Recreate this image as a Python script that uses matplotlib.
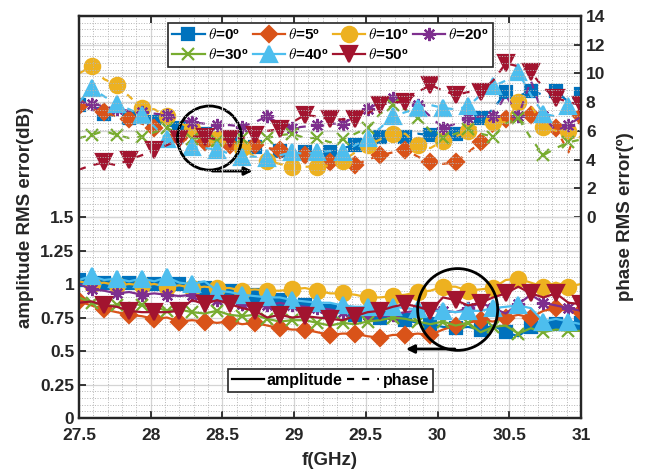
import numpy as np
import matplotlib.pyplot as plt
from matplotlib.lines import Line2D
from matplotlib.patches import Ellipse
from matplotlib.ticker import MultipleLocator, FixedLocator, FormatStrFormatter

plt.rcParams['font.family'] = ['Liberation Sans', 'DejaVu Sans']
plt.rcParams['font.weight'] = 'bold'
plt.rcParams['mathtext.fontset'] = 'cm'

freq = np.linspace(27.5, 31.0, 41)
angles = [0, 5, 10, 20, 30, 40, 50]

# amplitude RMS error (dB)
amp_0 = [1.03, 1.02, 1.01, 1.00, 1.01, 1.00, 1.00, 0.99, 1.00, 0.98, 0.97, 0.97, 0.95, 0.94, 0.92, 0.90,
         0.88, 0.86, 0.84, 0.82, 0.80, 0.79, 0.77, 0.76, 0.75, 0.74, 0.73, 0.71, 0.70, 0.68, 0.67, 0.68,
         0.66, 0.69, 0.64, 0.61, 0.68, 0.72, 0.70, 0.72, 0.71]
amp_5 = [0.87, 0.84, 0.81, 0.79, 0.77, 0.76, 0.74, 0.75, 0.72, 0.73, 0.72, 0.71, 0.72, 0.70, 0.71, 0.69,
         0.67, 0.66, 0.66, 0.64, 0.62, 0.63, 0.63, 0.61, 0.60, 0.62, 0.62, 0.63, 0.62, 0.66, 0.69, 0.71,
         0.73, 0.72, 0.75, 0.77, 0.75, 0.80, 0.82, 0.80, 0.79]
amp_10 = [1.02, 1.00, 1.01, 0.99, 1.00, 0.99, 1.00, 0.98, 0.99, 0.97, 0.98, 0.97, 0.97, 0.95, 0.96, 0.95,
          0.95, 0.96, 0.97, 0.95, 0.93, 0.93, 0.92, 0.90, 0.90, 0.91, 0.92, 0.94, 0.95, 0.98, 0.98, 0.95,
          0.96, 0.97, 1.03, 1.04, 1.01, 0.98, 1.01, 0.98, 1.00]
amp_20 = [1.00, 0.96, 0.95, 0.93, 0.94, 0.92, 0.93, 0.92, 0.91, 0.92, 0.90, 0.88, 0.87, 0.85, 0.82, 0.84,
          0.86, 0.84, 0.83, 0.82, 0.81, 0.79, 0.78, 0.77, 0.76, 0.77, 0.79, 0.80, 0.82, 0.80, 0.79, 0.82,
          0.86, 0.82, 0.78, 0.85, 0.92, 0.86, 0.84, 0.82, 0.80]
amp_30 = [0.90, 0.86, 0.84, 0.84, 0.86, 0.84, 0.83, 0.80, 0.81, 0.79, 0.78, 0.80, 0.77, 0.76, 0.77, 0.74,
          0.72, 0.73, 0.73, 0.71, 0.69, 0.71, 0.70, 0.72, 0.73, 0.75, 0.74, 0.72, 0.70, 0.72, 0.69, 0.71,
          0.64, 0.68, 0.69, 0.63, 0.67, 0.64, 0.66, 0.65, 0.65]
amp_40 = [1.03, 1.06, 1.03, 1.04, 1.02, 1.04, 1.02, 1.05, 1.01, 1.00, 1.02, 0.95, 0.94, 0.92, 0.91, 0.90,
          0.90, 0.88, 0.87, 0.86, 0.86, 0.84, 0.83, 0.83, 0.82, 0.83, 0.82, 0.81, 0.80, 0.80, 0.79, 0.80,
          0.80, 0.82, 0.83, 0.84, 0.82, 0.72, 0.74, 0.72, 0.70]
amp_50 = [0.86, 0.87, 0.84, 0.83, 0.80, 0.79, 0.79, 0.79, 0.80, 0.88, 0.85, 0.88, 0.85, 0.82, 0.80, 0.75,
          0.77, 0.75, 0.76, 0.75, 0.74, 0.73, 0.76, 0.79, 0.80, 0.83, 0.85, 0.83, 0.80, 0.90, 0.88, 0.84,
          0.86, 0.90, 0.93, 0.98, 0.93, 0.90, 0.93, 0.86, 0.85]

# phase RMS error (deg)
phase_0 = [7.8, 7.6, 7.2, 7.0, 6.9, 6.7, 6.6, 6.4, 6.2, 6.0, 5.8, 5.6, 5.3, 5.0, 4.9, 4.8,
           4.6, 4.5, 4.5, 4.6, 4.5, 4.8, 5.0, 5.3, 5.6, 5.5, 5.6, 5.8, 5.7, 5.8, 5.8, 6.0,
           6.9, 7.5, 8.7, 8.4, 8.8, 8.5, 8.8, 8.0, 8.6]
phase_5 = [7.7, 7.5, 7.3, 7.0, 6.8, 6.5, 6.2, 5.8, 5.5, 5.3, 5.2, 5.1, 5.0, 5.2, 5.0, 4.8,
           4.7, 4.5, 4.3, 4.0, 3.8, 3.6, 3.6, 4.0, 4.3, 4.5, 4.7, 4.2, 3.8, 3.7, 3.8, 4.5,
           5.2, 6.0, 6.8, 7.2, 7.1, 6.0, 6.2, 4.5, 7.0]
phase_10 = [10.0, 10.5, 9.6, 9.2, 8.4, 7.6, 7.5, 7.0, 6.6, 6.1, 5.8, 5.4, 5.2, 4.8, 4.2, 3.9,
            3.7, 3.5, 3.5, 3.5, 3.6, 3.9, 4.5, 5.0, 5.4, 5.8, 5.8, 5.0, 4.8, 5.3, 5.6, 6.0,
            6.4, 6.6, 6.6, 8.0, 7.8, 6.3, 6.0, 6.0, 5.5]
phase_20 = [8.0, 7.9, 7.7, 7.5, 7.4, 7.3, 7.2, 7.1, 6.8, 6.6, 6.5, 6.4, 6.4, 6.3, 6.6, 7.0,
            6.5, 6.2, 6.3, 6.4, 6.5, 6.5, 7.0, 7.5, 8.0, 8.3, 8.0, 7.8, 7.0, 6.2, 6.5, 6.9,
            7.0, 7.0, 8.5, 7.0, 9.5, 7.0, 6.0, 6.4, 7.0]
phase_30 = [5.5, 5.7, 6.0, 5.7, 5.5, 5.6, 5.9, 6.2, 5.8, 5.4, 5.6, 5.3, 5.6, 5.5, 5.8, 5.5,
            5.7, 5.8, 5.5, 5.5, 5.2, 5.4, 5.8, 6.2, 7.2, 7.8, 7.5, 6.9, 6.0, 5.5, 5.8, 6.1,
            5.8, 5.6, 6.5, 6.9, 5.5, 4.3, 4.8, 5.2, 5.4]
phase_40 = [8.0, 9.0, 8.4, 7.9, 7.5, 7.1, 6.3, 5.4, 5.2, 4.9, 4.8, 4.7, 4.4, 4.2, 4.2, 4.1,
            4.3, 4.5, 4.4, 4.5, 4.6, 4.5, 5.0, 5.5, 6.2, 7.0, 7.3, 7.6, 7.8, 7.6, 7.5, 7.7,
            8.5, 9.1, 9.5, 10.1, 8.5, 7.2, 7.0, 7.7, 8.2]
phase_50 = [3.3, 3.6, 3.8, 3.6, 4.0, 4.3, 4.7, 5.0, 5.4, 5.6, 5.6, 5.4, 5.4, 5.5, 5.7, 6.0,
            6.1, 6.6, 7.1, 7.0, 6.8, 6.8, 6.8, 7.2, 7.8, 8.0, 8.0, 8.7, 9.2, 8.8, 8.5, 8.7,
            8.7, 9.5, 10.7, 10.5, 10.1, 9.0, 8.3, 8.0, 7.8]

amp = [amp_0, amp_5, amp_10, amp_20, amp_30, amp_40, amp_50]
phase = [phase_0, phase_5, phase_10, phase_20, phase_30, phase_40, phase_50]

colors = ['#0072BD', '#D95319', '#EDB120', '#7E2F8E', '#77AC30', '#4DBEEE', '#A2142F']
markers = ['s', 'D', 'o', (8, 2, 0), 'x', '^', 'v']
msize = [8, 8.5, 11, 9.5, 8, 11, 11]
mstart = [0, 0, 1, 1, 1, 1, 2]
dash = (3.2, 3.6)

fig = plt.figure(figsize=(6.45, 4.7), dpi=100)
ax = fig.add_axes([0.1225, 0.1106, 0.7783, 0.8554])
ax2 = ax.twinx()
ax.set_zorder(2)
ax.patch.set_visible(False)

handles = []
for k in range(len(angles)):
    h, = ax.plot(freq, amp[k], '-', color=colors[k], lw=1.6, marker=markers[k],
                 ms=msize[k], mfc=colors[k], mec=colors[k], mew=1.6,
                 markevery=slice(mstart[k], None, 2),
                 label=r'$\theta$=%dº' % angles[k])
    ax2.plot(freq, phase[k], '--', color=colors[k], lw=1.6, marker=markers[k],
             ms=msize[k], mfc=colors[k], mec=colors[k], mew=1.6,
             markevery=slice(mstart[k], None, 2), dashes=dash)
    handles.append(h)

dark = '#262626'
ax.set_xlim(27.5, 31)
ax.set_ylim(0, 3)
ax2.set_ylim(-14, 14)
ax.xaxis.set_major_locator(FixedLocator(np.arange(27.5, 31.01, 0.5)))
ax.xaxis.set_major_formatter(FormatStrFormatter('%g'))
ax.xaxis.set_minor_locator(MultipleLocator(0.1))
ax.yaxis.set_major_locator(FixedLocator(np.arange(0, 1.51, 0.25)))
ax.yaxis.set_major_formatter(FormatStrFormatter('%g'))
ax.yaxis.set_minor_locator(MultipleLocator(0.05))
ax2.yaxis.set_major_locator(FixedLocator(np.arange(0, 15, 2)))

ax.grid(True, which='major', color='#d4d4d4', lw=0.9)
ax.grid(True, which='minor', color='#b5b5b5', lw=0.7, ls=':')
ax2.grid(True, which='major', axis='y', color='#d4d4d4', lw=0.9)
ax.set_axisbelow(True)

ax.tick_params(which='both', direction='in', top=True, right=False, colors=dark,
               labelsize=12.5, width=1.3, length=5)
ax.tick_params(which='minor', length=0)
ax.tick_params(axis='x', pad=7)
ax2.tick_params(which='both', direction='in', colors=dark, labelsize=12.5, width=1.3, length=5)
ax2.tick_params(which='minor', length=0)
for a in (ax, ax2):
    for s in a.spines.values():
        s.set_linewidth(1.6)
        s.set_color(dark)

ax.set_xlabel('f(GHz)', fontsize=13.5, fontweight='bold', color=dark, labelpad=7)
ax.set_ylabel('amplitude RMS error(dB)', fontsize=13.5, fontweight='bold', color=dark, labelpad=4)
ax2.set_ylabel('phase RMS error(º)', fontsize=13.5, fontweight='bold', color=dark, labelpad=8)

order = [0, 4, 1, 5, 2, 6, 3]
leg1 = ax.legend([handles[i] for i in order], [handles[i].get_label() for i in order],
                 ncol=4, loc='upper left', bbox_to_anchor=(0.177, 0.983), borderaxespad=0,
                 fontsize=11, handlelength=2.1, handletextpad=0.2, columnspacing=0.3,
                 labelspacing=0.3, borderpad=0.3, fancybox=False, framealpha=1, edgecolor=dark)
leg1.get_frame().set_linewidth(1.2)
ax.add_artist(leg1)

style_handles = [Line2D([], [], color='k', lw=1.6, ls='-'),
                 Line2D([], [], color='k', lw=1.6, ls='--', dashes=dash)]
leg2 = ax.legend(style_handles, ['amplitude', 'phase'], ncol=2, loc='lower left',
                 bbox_to_anchor=(0.296, 0.065), borderaxespad=0, fontsize=11.5,
                 handlelength=2.0, handletextpad=0.2, columnspacing=0.3, borderpad=0.25,
                 fancybox=False, framealpha=1, edgecolor=dark)
leg2.get_frame().set_linewidth(1.2)

# circle + arrow marking the phase curves (right axis)
ax2.add_patch(Ellipse((28.41, 5.5), 0.446, 4.46, fill=False, lw=2, color='k', zorder=6))
ax2.annotate('', xy=(28.73, 3.2), xytext=(28.41, 3.2),
             arrowprops=dict(arrowstyle='-|>', color='k', lw=2, mutation_scale=12), zorder=6)
# circle + arrow marking the amplitude curves (left axis)
ax.add_patch(Ellipse((30.14, 0.81), 0.558, 0.61, fill=False, lw=2, color='k', zorder=6))
ax.annotate('', xy=(29.76, 0.515), xytext=(30.14, 0.515),
            arrowprops=dict(arrowstyle='-|>', color='k', lw=2, mutation_scale=12), zorder=6)

fig.savefig('out.png', dpi=100)
